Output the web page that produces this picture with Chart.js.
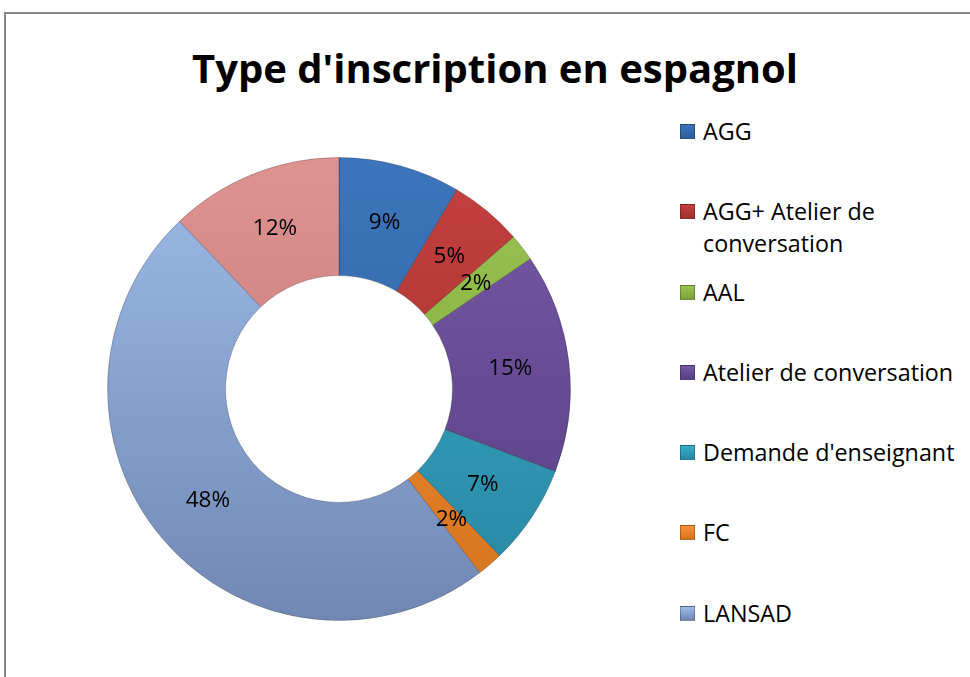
<!DOCTYPE html>
<html>
<head>
<meta charset="utf-8">
<script src="https://cdn.jsdelivr.net/npm/chart.js@4/dist/chart.umd.min.js"></script>
<style>
  html, body { margin: 0; padding: 0; background: #fff; overflow: hidden; }
  body { width: 970px; height: 677px; position: relative; font-family: "Open Sans", sans-serif; }
  #frame { position: absolute; left: 4px; top: 12px; width: 1000px; height: 700px; border: 2px solid #878787; }
  #title { position: absolute; left: 0; width: 990px; top: 40px; text-align: center; line-height: 1;
           font: 700 40px "Open Sans", sans-serif; color: #000; white-space: nowrap; }
  #chartBox { position: absolute; left: 107px; top: 157px; width: 464px; height: 464px; }
  #legend { position: absolute; left: 680px; top: 115px; width: 290px; }
  .item { height: 80.3px; display: flex; align-items: flex-start; }
  .box { width: 15px; height: 15px; margin-top: 9px; flex: none; box-sizing: border-box;
         border: 1px solid rgba(0,0,0,0.25); }
  .txt { margin-left: 8px; width: 268px; font-size: 23.3px; line-height: 32px; color: #000; }
</style>
</head>
<body>
<div id="frame"></div>
<div id="title">Type d'inscription en espagnol</div>
<div id="chartBox"><canvas id="chart"></canvas></div>
<div id="legend"></div>
<script>
// categories, clockwise from 12 o'clock (last slice has no legend entry in the source)
const categories = ["AGG", "AGG+ Atelier de conversation", "AAL", "Atelier de conversation",
                    "Demande d'enseignant", "FC", "LANSAD", ""];
// share of registrations, percent
const shares = [8.5, 5.1, 1.9, 15.3, 7.0, 1.8, 48.3, 12.1];

const topColors    = ["#3C75BC", "#C4403D", "#9AC451", "#7759A6", "#38AECB", "#F5923A", "#9DBCE8", "#DE9391"];
const bottomColors = ["#2E5C98", "#9C302D", "#7AA23A", "#563E82", "#2886A2", "#D5741E", "#7187B4", "#BC7371"];

function sliceFill(ctx) {
    const chart = ctx.chart;
    const area = chart.chartArea;
    const i = ctx.dataIndex;
    if (!area) return topColors[i];
    const g = chart.ctx.createLinearGradient(0, area.top, 0, area.bottom);
    g.addColorStop(0, topColors[i]);
    g.addColorStop(1, bottomColors[i]);
    return g;
}

// percent labels in the middle of each ring segment
const sliceLabels = {
    id: "sliceLabels",
    afterDatasetsDraw(chart) {
        const ctx = chart.ctx;
        const meta = chart.getDatasetMeta(0);
        ctx.save();
        ctx.font = '22.5px "Open Sans"';
        ctx.fillStyle = "#000";
        ctx.textAlign = "center";
        ctx.textBaseline = "middle";
        meta.data.forEach((arc, i) => {
            const p = arc.getCenterPoint();
            ctx.fillText(Math.round(shares[i]) + "%", p.x, p.y);
        });
        ctx.restore();
    }
};

new Chart(document.getElementById("chart"), {
    type: "doughnut",
    data: {
        labels: categories,
        datasets: [{
            data: shares,
            backgroundColor: sliceFill,
            borderColor: "rgba(0,0,0,0.22)",
            borderWidth: 1,
            hoverOffset: 0
        }]
    },
    options: {
        responsive: true,
        maintainAspectRatio: false,
        animation: false,
        cutout: "49%",
        layout: { padding: 0 },
        events: [],
        plugins: {
            legend: { display: false },
            title: { display: false },
            tooltip: { enabled: false }
        }
    },
    plugins: [sliceLabels]
});

// legend on the right, built from the same arrays
const legendEl = document.getElementById("legend");
categories.forEach((name, i) => {
    if (!name) return;
    const row = document.createElement("div");
    row.className = "item";
    const box = document.createElement("div");
    box.className = "box";
    box.style.background = "linear-gradient(" + topColors[i] + ", " + bottomColors[i] + ")";
    const txt = document.createElement("div");
    txt.className = "txt";
    txt.textContent = name;
    row.appendChild(box);
    row.appendChild(txt);
    legendEl.appendChild(row);
});
</script>
</body>
</html>
